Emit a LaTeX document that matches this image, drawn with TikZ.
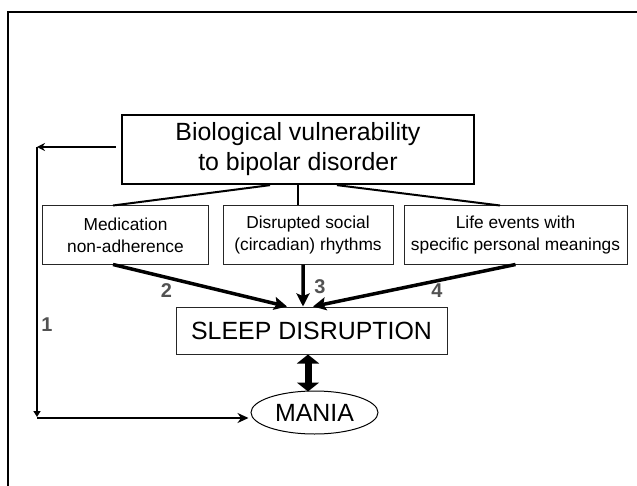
\documentclass[tikz,border=0pt]{standalone}
\usepackage{fontspec}
\setmainfont{Liberation Sans}
\usetikzlibrary{arrows.meta,shapes.geometric}
\begin{document}
\begin{tikzpicture}[x=1bp,y=-1bp,
  frame/.style={line width=2bp},
  topbox/.style={draw,line width=2.3bp,minimum width=352bp,minimum height=69bp,
    inner sep=0pt,align=center,font=\fontsize{25}{30}\selectfont},
  factor/.style={draw=black!85,line width=1bp,minimum height=58bp,inner sep=0pt,
    align=center,font=\fontsize{17.4}{22}\selectfont},
  sleepbox/.style={draw=black!85,line width=1bp,minimum width=271bp,minimum height=47bp,
    inner sep=0pt,font=\fontsize{25}{30}\selectfont},
  outcome/.style={ellipse,draw,line width=1bp,minimum width=127bp,minimum height=43bp,
    inner sep=0pt,font=\fontsize{25}{30}\selectfont},
  branch/.style={line width=2bp},
  pathway/.style={line width=3.5bp,-{Stealth[length=13bp,width=13bp,inset=2.5bp]}},
  loopline/.style={line width=1.8bp},
  num/.style={font=\fontsize{20}{22}\bfseries\selectfont,text=black!68,inner sep=0pt}
]
\useasboundingbox (0,0) rectangle (637,486);

% outer frame (top and left edges)
\draw[frame] (8,486) -- (8,12) -- (637,12);

% boxes
\node[topbox] (bio) at (298,149.5) {Biological vulnerability\\to bipolar disorder};
\node[factor,minimum width=165bp] (med) at (125.5,235) {Medication\\non-adherence};
\node[factor,minimum width=170bp] (dis) at (308,235) {Disrupted social\\(circadian) rhythms};
\node[factor,minimum width=223bp] (life) at (515.5,235) {Life events with\\specific personal meanings};
\node[sleepbox] (sleep) at (311.5,330.5) {SLEEP DISRUPTION};
\node[outcome] (mania) at (314.5,412.5) {MANIA};

% branches from the vulnerability box
\draw[branch] ([xshift=-28bp]bio.south) -- ([xshift=-12.5bp]med.north);
\draw[branch] (bio.south) -- (bio.south |- dis.north);
\draw[branch] ([xshift=39bp]bio.south) -- ([xshift=-15.5bp]life.north);

% pathways into sleep disruption
\draw[pathway] ([xshift=-12.5bp]med.south) -- ([xshift=-24.5bp]sleep.north);
\draw[pathway] ([xshift=-5bp]dis.south) -- ([xshift=-8.5bp]sleep.north);
\draw[pathway] (life.south) -- ([xshift=1.5bp]sleep.north);

% two-way link between sleep disruption and mania
\draw[line width=7bp,{Triangle[length=9bp,width=22bp]}-{Triangle[length=9bp,width=22bp]}]
  ([xshift=-3.5bp]sleep.south) -- ([xshift=-3.5bp,yshift=-1bp]sleep.south |- mania.north);

% direct pathway 1
\coordinate (c1) at (37,147);
\coordinate (c2) at (37,417);
\coordinate (c3) at (37,418);
\draw[loopline,-{Stealth[length=8bp,width=8bp]}] ([xshift=-5bp]c1 -| bio.west) -- (c1);
\draw[loopline,-{Triangle[length=6bp,width=7bp]}] (c1) -- (c2);
\draw[loopline,-{Stealth[length=11bp,width=10bp]}] (c3) -- ([xshift=-2bp]c3 -| mania.west);

% pathway numbers
\node[num] (n1) at (47,325) {1};
\node[num] (n2) at (166.5,291) {2};
\node[num] (n3) at (320,287) {3};
\node[num] (n4) at (437,291) {4};
\end{tikzpicture}
\end{document}
